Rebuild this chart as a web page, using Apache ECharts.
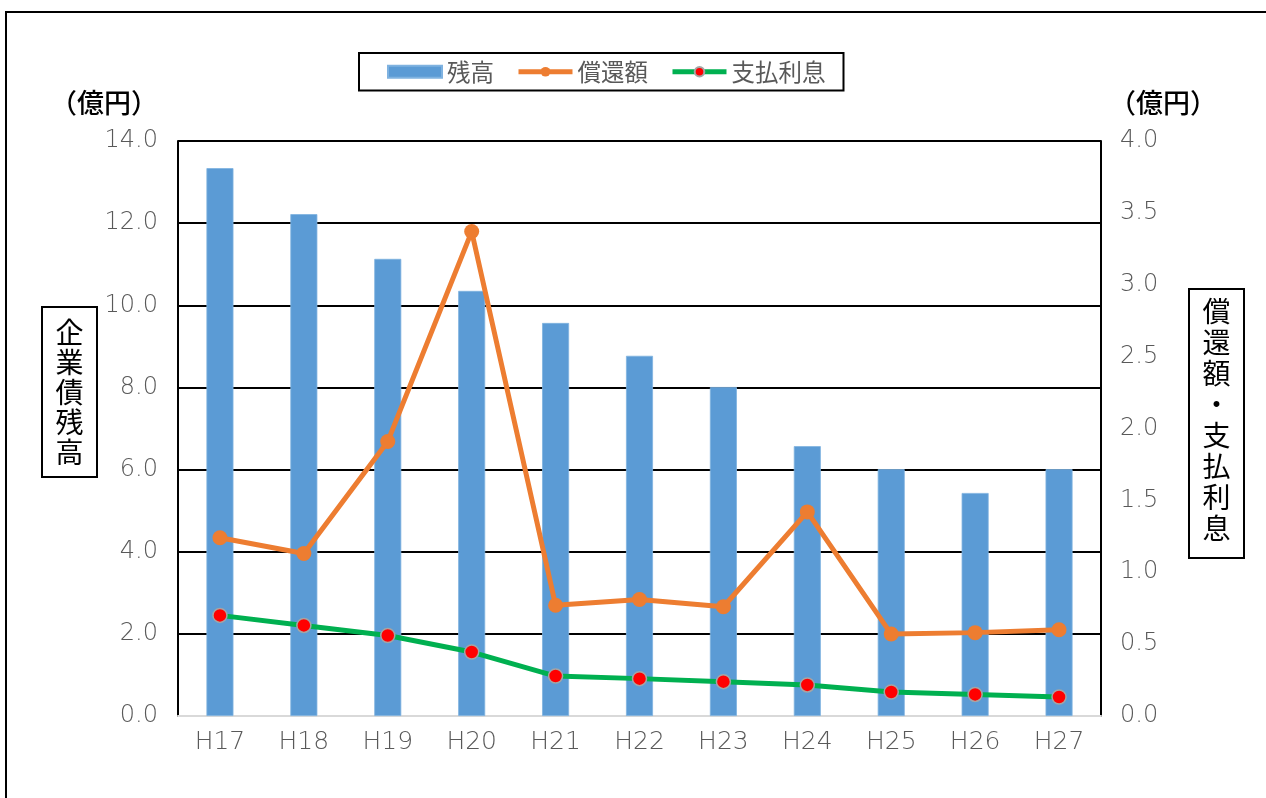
<!DOCTYPE html>
<html>
<head>
<meta charset="utf-8">
<script src="https://cdn.jsdelivr.net/npm/echarts@6/dist/echarts.min.js"></script>
<style>html,body{margin:0;padding:0;background:#fff;}#c{width:1266px;height:798px;}</style>
</head>
<body>
<div id="c"></div>
<script>
const categories = ['H17','H18','H19','H20','H21','H22','H23','H24','H25','H26','H27'];
const balance = [13.34, 12.22, 11.13, 10.35, 9.57, 8.77, 8.01, 6.57, 6.01, 5.43, 6.01];
const repayment = [1.24, 1.13, 1.91, 3.37, 0.77, 0.81, 0.76, 1.42, 0.57, 0.58, 0.60];
const interest = [0.70, 0.63, 0.56, 0.445, 0.278, 0.26, 0.239, 0.216, 0.167, 0.15, 0.132];
const leftTicks = ['0.0','2.0','4.0','6.0','8.0','10.0','12.0','14.0'];
const rightTicks = ['0.0','0.5','1.0','1.5','2.0','2.5','3.0','3.5','4.0'];

const numFont = 'DejaVu Sans';
const cjk = '"Noto Sans CJK JP", sans-serif';
const chart = echarts.init(document.getElementById('c'));
chart.setOption({
  animation: false,
  backgroundColor: '#fff',
  grid: { left: 178, right: 165, top: 141, bottom: 82, containLabel: false },
  legend: {
    left: 359, top: 53,
    padding: [7, 18, 7, 28],
    borderColor: '#000', borderWidth: 2,
    itemGap: 22, itemWidth: 54, itemHeight: 12,
    textStyle: { fontFamily: cjk, fontSize: 23.5, color: '#595959' },
    data: [
      { name: '残高', icon: 'rect', itemStyle: { color: '#5B9BD5' } },
      { name: '償還額', lineStyle: { width: 5 } },
      { name: '支払利息', lineStyle: { width: 5 } }
    ]
  },
  xAxis: {
    type: 'category', data: categories,
    axisLine: { lineStyle: { color: '#D9D9D9', width: 2 } },
    axisTick: { show: false },
    axisLabel: { fontFamily: numFont, fontWeight: 200, fontSize: 25, color: '#595959', margin: 14 }
  },
  yAxis: [
    {
      type: 'value', min: 0, max: 14, interval: 2,
      axisLine: { show: true, lineStyle: { color: '#000', width: 2 } },
      axisTick: { show: false },
      splitLine: { lineStyle: { color: '#000', width: 2 } },
      axisLabel: { fontFamily: numFont, fontWeight: 200, fontSize: 24, color: '#595959', margin: 20,
        formatter: (v) => leftTicks[Math.round(v / 2)] }
    },
    {
      type: 'value', min: 0, max: 4, interval: 0.5,
      axisLine: { show: true, lineStyle: { color: '#000', width: 2 } },
      axisTick: { show: false },
      splitLine: { show: false },
      axisLabel: { fontFamily: numFont, fontWeight: 200, fontSize: 24, color: '#595959', margin: 19,
        formatter: (v) => rightTicks[Math.round(v * 2)] }
    }
  ],
  series: [
    {
      name: '残高', type: 'bar', data: balance, yAxisIndex: 0,
      barWidth: 27,
      itemStyle: { color: '#5B9BD5', borderColor: '#7FB2E0', borderWidth: 0.8 },
      z: 2
    },
    {
      name: '償還額', type: 'line', data: repayment, yAxisIndex: 1,
      symbol: 'circle', symbolSize: 15,
      lineStyle: { color: '#ED7D31', width: 5 },
      itemStyle: { color: '#ED7D31' },
      z: 3
    },
    {
      name: '支払利息', type: 'line', data: interest, yAxisIndex: 1,
      symbol: 'circle', symbolSize: 14,
      lineStyle: { color: '#00B050', width: 5 },
      itemStyle: { color: '#FF0000', borderColor: '#A5A5A5', borderWidth: 1.5 },
      z: 4
    }
  ],
  graphic: [
    { type: 'rect', shape: { x: 6, y: 12, width: 1400, height: 900 }, style: { fill: 'none', stroke: '#000', lineWidth: 2 }, silent: true },
    { type: 'text', x: 104, y: 103, style: { text: '（億円）', font: '500 27px ' + cjk, fill: '#000', align: 'center', verticalAlign: 'middle' } },
    { type: 'text', x: 1163, y: 103, style: { text: '（億円）', font: '500 27px ' + cjk, fill: '#000', align: 'center', verticalAlign: 'middle' } },
    { type: 'rect', shape: { x: 42, y: 307, width: 55, height: 170 }, style: { fill: '#fff', stroke: '#000', lineWidth: 2 } },
    { type: 'text', x: 69.5, y: 392, style: { text: '企\n業\n債\n残\n高', font: '28px ' + cjk, fill: '#000', align: 'center', verticalAlign: 'middle', lineHeight: 30 } },
    { type: 'rect', shape: { x: 1189, y: 289, width: 55, height: 269 }, style: { fill: '#fff', stroke: '#000', lineWidth: 2 } },
    { type: 'text', x: 1216.5, y: 420, style: { text: '償\n還\n額\n・\n支\n払\n利\n息', font: '28px ' + cjk, fill: '#000', align: 'center', verticalAlign: 'middle', lineHeight: 31 } }
  ]
});
</script>
</body>
</html>
